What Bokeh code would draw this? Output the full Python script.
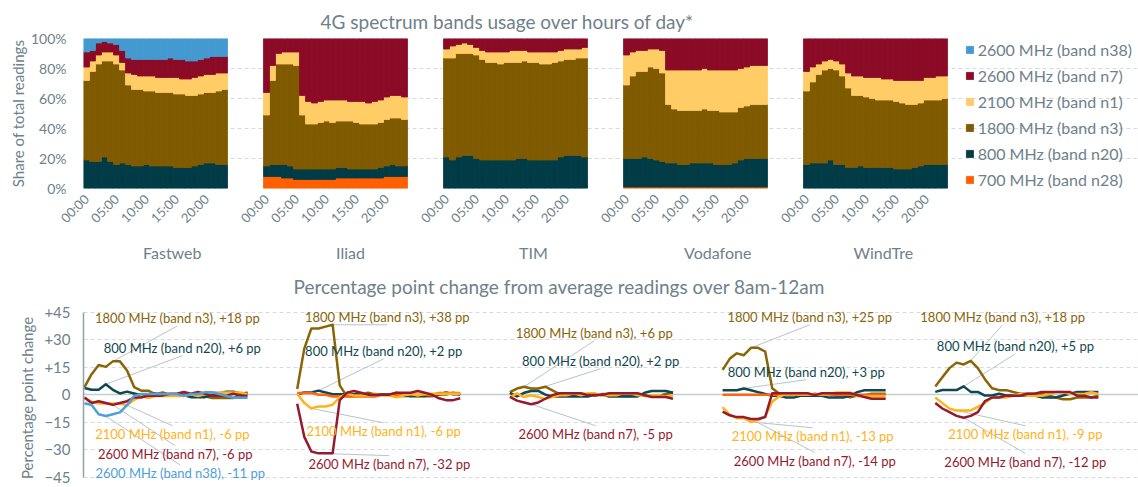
import math
from bokeh.plotting import figure
from bokeh.models import (Range1d, FixedTicker, ColumnDataSource, Legend, LegendItem,
                          LinearAxis, Grid)
from bokeh.layouts import column
from bokeh.embed import file_html
from bokeh.resources import INLINE
from bokeh.core.properties import value

# ---------------- data ----------------
operators = ["Fastweb", "Iliad", "TIM", "Vodafone", "WindTre"]
hours = list(range(24))
hour_ticks = [0, 5, 10, 15, 20]
hour_tick_labels = ["00:00", "05:00", "10:00", "15:00", "20:00"]

# stacking order bottom -> top
bands = ["n28", "n20", "n3", "n1", "n7", "n38"]
band_labels = {
    "n28": "700 MHz (band n28)",
    "n20": "800 MHz (band n20)",
    "n3": "1800 MHz (band n3)",
    "n1": "2100 MHz (band n1)",
    "n7": "2600 MHz (band n7)",
    "n38": "2600 MHz (band n38)",
}
legend_order = ["n38", "n7", "n1", "n3", "n20", "n28"]

# share of total readings (%) per hour 00..23
fastweb_n20 = [19, 18, 18, 21, 18, 16, 17, 16, 15, 15, 16, 15, 15, 15, 15, 14, 14, 14, 15, 16, 17, 17, 16, 16]
fastweb_n3 = [53, 60, 65, 64, 67, 67, 62, 53, 51, 51, 49, 50, 49, 49, 49, 49, 49, 48, 47, 47, 47, 47, 49, 50]
fastweb_n1 = [9, 7, 6, 6, 6, 6, 5, 8, 10, 9, 10, 10, 10, 10, 10, 11, 10, 11, 12, 12, 12, 12, 12, 11]
fastweb_n7 = [10, 7, 8, 7, 6, 7, 8, 10, 10, 11, 11, 11, 12, 12, 13, 12, 13, 12, 11, 11, 11, 12, 11, 11]
fastweb_n38 = [9, 8, 3, 2, 3, 4, 8, 13, 14, 14, 14, 14, 14, 14, 13, 14, 14, 15, 15, 14, 13, 12, 12, 12]

iliad_n28 = [8, 8, 8, 7, 7, 6, 6, 6, 6, 6, 6, 6, 7, 7, 7, 7, 7, 7, 7, 7, 8, 8, 8, 8]
iliad_n20 = [7, 8, 8, 9, 8, 7, 7, 7, 7, 7, 7, 7, 7, 7, 6, 6, 6, 6, 6, 7, 7, 8, 7, 7]
iliad_n3 = [34, 56, 67, 67, 68, 69, 36, 30, 30, 31, 32, 31, 31, 31, 32, 31, 30, 30, 30, 30, 31, 31, 32, 31]
iliad_n1 = [15, 10, 7, 8, 8, 9, 13, 15, 14, 14, 14, 15, 14, 14, 13, 14, 15, 14, 15, 15, 15, 15, 15, 15]
iliad_n7 = [36, 18, 10, 9, 9, 9, 38, 42, 43, 42, 41, 41, 41, 41, 42, 42, 42, 43, 42, 41, 39, 38, 38, 39]

tim_n20 = [21, 19, 21, 22, 22, 20, 19, 19, 19, 19, 19, 19, 20, 20, 19, 19, 19, 19, 19, 21, 22, 22, 22, 21]
tim_n3 = [66, 68, 69, 68, 68, 69, 67, 65, 65, 64, 65, 65, 64, 65, 65, 65, 64, 64, 65, 64, 64, 64, 65, 66]
tim_n1 = [6, 8, 6, 7, 6, 5, 6, 7, 7, 8, 7, 8, 8, 7, 7, 7, 8, 8, 7, 7, 7, 7, 6, 7]
tim_n7 = [7, 5, 4, 3, 4, 6, 8, 9, 9, 9, 9, 8, 8, 8, 9, 9, 9, 9, 9, 8, 7, 7, 7, 6]

vodafone_n28 = [1, 1, 1, 1, 1, 1, 1, 1, 1, 1, 1, 1, 1, 1, 1, 1, 1, 1, 1, 1, 1, 1, 1, 1]
vodafone_n20 = [19, 19, 19, 20, 19, 18, 17, 16, 16, 15, 15, 16, 16, 16, 16, 15, 15, 15, 16, 18, 19, 19, 19, 19]
vodafone_n3 = [49, 55, 58, 57, 61, 61, 59, 39, 36, 36, 36, 35, 35, 36, 35, 36, 35, 35, 34, 35, 35, 36, 36, 36]
vodafone_n1 = [20, 16, 14, 14, 12, 13, 15, 23, 26, 27, 27, 27, 27, 27, 27, 27, 28, 28, 28, 26, 26, 26, 26, 26]
vodafone_n7 = [11, 9, 8, 8, 7, 7, 8, 21, 21, 21, 21, 21, 21, 20, 21, 21, 21, 21, 21, 20, 19, 18, 18, 18]

windtre_n20 = [16, 17, 17, 17, 19, 16, 16, 14, 14, 15, 14, 14, 14, 14, 14, 13, 13, 13, 14, 15, 16, 16, 16, 16]
windtre_n3 = [49, 54, 59, 62, 61, 63, 59, 53, 48, 47, 47, 46, 45, 45, 45, 45, 44, 43, 42, 42, 43, 43, 43, 44]
windtre_n1 = [13, 10, 7, 6, 6, 6, 8, 10, 13, 13, 13, 14, 15, 14, 14, 14, 15, 16, 16, 15, 15, 15, 16, 15]
windtre_n7 = [22, 19, 17, 15, 14, 15, 17, 23, 25, 25, 26, 26, 26, 27, 27, 28, 28, 28, 28, 28, 26, 26, 25, 25]

shares = {
    "Fastweb": {"n20": fastweb_n20, "n3": fastweb_n3, "n1": fastweb_n1, "n7": fastweb_n7, "n38": fastweb_n38},
    "Iliad": {"n28": iliad_n28, "n20": iliad_n20, "n3": iliad_n3, "n1": iliad_n1, "n7": iliad_n7},
    "TIM": {"n20": tim_n20, "n3": tim_n3, "n1": tim_n1, "n7": tim_n7},
    "Vodafone": {"n28": vodafone_n28, "n20": vodafone_n20, "n3": vodafone_n3, "n1": vodafone_n1, "n7": vodafone_n7},
    "WindTre": {"n20": windtre_n20, "n3": windtre_n3, "n1": windtre_n1, "n7": windtre_n7},
}

# annotation values as printed on the chart
fastweb_notes = {"n3": "+18 pp", "n20": "+6 pp", "n1": "-6 pp", "n7": "-6 pp", "n38": "-11 pp"}
iliad_notes = {"n3": "+38 pp", "n20": "+2 pp", "n1": "-6 pp", "n7": "-32 pp"}
tim_notes = {"n3": "+6 pp", "n20": "+2 pp", "n7": "-5 pp"}
vodafone_notes = {"n3": "+25 pp", "n20": "+3 pp", "n1": "-13 pp", "n7": "-14 pp"}
windtre_notes = {"n3": "+18 pp", "n20": "+5 pp", "n1": "-9 pp", "n7": "-12 pp"}
notes = {"Fastweb": fastweb_notes, "Iliad": iliad_notes, "TIM": tim_notes,
         "Vodafone": vodafone_notes, "WindTre": windtre_notes}

# ---------------- layout / style ----------------
STRIDE = 30  # x units between the starts of operator panels
FONT = "Lato"
GREY = "#6e818a"
GRID = "#d3dbdf"

bar_colors = {"n28": "#ff5f00", "n20": "#003b46", "n3": "#7f5a00", "n1": "#ffcc66",
              "n7": "#8b0a26", "n38": "#4499d1"}
line_colors = {"n28": "#ff6410", "n20": "#0f4850", "n3": "#8a6406", "n1": "#ffb31a",
               "n7": "#951a30", "n38": "#4ea0da"}

# label anchor positions (x relative to panel start, y in pp)
note_pos = {
    "Fastweb": {"n3": (13.1, 41.9), "n20": (13.8, 25.7), "n1": (12.4, -21.3), "n7": (12.8, -32.2), "n38": (13.5, -42.7)},
    "Iliad": {"n3": (12.7, 42.5), "n20": (12.2, 24.0), "n1": (12.2, -19.7), "n7": (13.0, -37.6)},
    "TIM": {"n3": (11.9, 33.8), "n20": (12.8, 18.6), "n7": (12.1, -21.3)},
    "Vodafone": {"n3": (12.3, 42.5), "n20": (11.8, 12.6), "n1": (12.7, -22.4), "n7": (13.0, -35.9)},
    "WindTre": {"n3": (9.5, 42.5), "n20": (11.3, 26.7), "n1": (12.7, -21.3), "n7": (12.7, -36.4)},
}
op_label_x = [14.3, 44.0, 74.5, 105.2, 132.8]

# ---------------- top: stacked bars ----------------
top = figure(frame_width=1058, frame_height=150,
             x_range=Range1d(-0.5, 175.83), y_range=Range1d(0, 100),
             output_backend="svg", toolbar_location=None,
             min_border_left=80, min_border_right=0, min_border_top=38, min_border_bottom=75,
             outline_line_color=None, background_fill_color="white", border_fill_color="white")
top.title.text = "4G spectrum bands usage over hours of day*"
top.title.text_font = FONT
top.title.text_font_size = "19px"
top.title.text_font_style = "normal"
top.title.text_color = GREY
top.title.align = "left"
top.title.offset = 237
top.title.vertical_align = "top"
top.title.standoff = 8

renderers = {}
for k, op in enumerate(operators):
    op_bands = [b for b in bands if b in shares[op]]
    data = {"x": [STRIDE * k + h for h in hours]}
    for b in op_bands:
        data[b] = shares[op][b]
    src = ColumnDataSource(data)
    cols = [bar_colors[b] for b in op_bands]
    rs = top.vbar_stack(op_bands, x="x", width=1.0, source=src,
                        fill_color=cols, line_color=cols, line_width=0.8)
    for b, r in zip(op_bands, rs):
        renderers.setdefault(b, r)

top.xgrid.visible = False
top.ygrid.ticker = FixedTicker(ticks=[0, 20, 40, 60, 80, 100])
top.ygrid.grid_line_color = GRID
top.ygrid.grid_line_dash = "4 3"
top.ygrid.bounds = (-0.5, STRIDE * 4 + 23.5)

ya = top.yaxis[0]
ya.ticker = FixedTicker(ticks=[0, 20, 40, 60, 80, 100])
ya.major_label_overrides = {v: f"{v}%" for v in [0, 20, 40, 60, 80, 100]}
ya.axis_line_color = None
ya.major_tick_line_color = None
ya.minor_tick_line_color = None
ya.major_tick_out = 0
ya.minor_tick_out = 0
ya.major_label_standoff = 17
ya.major_label_text_font = FONT
ya.major_label_text_font_size = "14px"
ya.major_label_text_color = GREY
ya.axis_label = "Share of total readings"
ya.axis_label_text_font = FONT
ya.axis_label_text_font_size = "15px"
ya.axis_label_text_font_style = "normal"
ya.axis_label_text_color = GREY
ya.axis_label_standoff = 1

tick_pos = [STRIDE * k + h for k in range(len(operators)) for h in hour_ticks]
tick_lab = {STRIDE * k + h: lab for k in range(len(operators)) for h, lab in zip(hour_ticks, hour_tick_labels)}
xa = top.xaxis[0]
xa.ticker = FixedTicker(ticks=tick_pos)
xa.major_label_overrides = tick_lab
xa.major_label_orientation = math.pi / 4
xa.axis_line_color = None
xa.major_tick_line_color = None
xa.minor_tick_line_color = None
xa.major_tick_out = 0
xa.minor_tick_out = 0
xa.major_label_standoff = 8
xa.major_label_text_font = FONT
xa.major_label_text_font_size = "13px"
xa.major_label_text_color = GREY

op_axis = LinearAxis(ticker=FixedTicker(ticks=op_label_x),
                     major_label_overrides={x: op for x, op in zip(op_label_x, operators)},
                     axis_line_color=None, major_tick_line_color=None, minor_tick_line_color=None,
                     major_tick_out=0, minor_tick_out=0, major_tick_in=0, minor_tick_in=0,
                     major_label_standoff=8, major_label_text_font=FONT,
                     major_label_text_font_size="16px", major_label_text_color=GREY)
top.add_layout(op_axis, "below")

legend = Legend(items=[LegendItem(label=value(band_labels[b]), renderers=[renderers[b]]) for b in legend_order],
                location=(886, -1), orientation="vertical", padding=0, margin=0, spacing=6,
                glyph_width=9, glyph_height=9, label_height=20, label_standoff=4,
                label_text_font=FONT, label_text_font_size="16px", label_text_color=GREY,
                border_line_color=None, background_fill_alpha=0)
top.add_layout(legend, "center")

# ---------------- bottom: percentage point change ----------------
bot = figure(frame_width=1055, frame_height=177,
             x_range=Range1d(-0.14, 148.66), y_range=Range1d(-50.0, 46.45),
             x_axis_location=None, output_backend="svg", toolbar_location=None,
             min_border_left=83, min_border_right=0, min_border_top=45, min_border_bottom=0,
             outline_line_color=None, background_fill_color="white", border_fill_color="white")
bot.title.text = "Percentage point change from average readings over 8am-12am"
bot.title.text_font = FONT
bot.title.text_font_size = "19px"
bot.title.text_font_style = "normal"
bot.title.text_color = GREY
bot.title.align = "left"
bot.title.offset = 210
bot.title.vertical_align = "top"
bot.title.standoff = 19

bot.xgrid.visible = False
bot.ygrid.ticker = FixedTicker(ticks=[-45, -30, -15, 15, 30, 45])
bot.ygrid.grid_line_color = GRID
bot.ygrid.grid_line_dash = "4 3"
bot.ygrid.bounds = (-0.14, STRIDE * 4 + 23.3)
zero_grid = Grid(dimension=1, ticker=FixedTicker(ticks=[0]), grid_line_color="#c3cdd2",
                 grid_line_width=1.5, bounds=(-0.14, STRIDE * 4 + 23.3))
bot.add_layout(zero_grid)

pp_ticks = [-45, -30, -15, 0, 15, 30, 45]
by = bot.yaxis[0]
by.ticker = FixedTicker(ticks=pp_ticks)
by.major_label_overrides = {v: ("+%d" % v if v > 0 else ("0" if v == 0 else "\u2212%d" % -v)) for v in pp_ticks}
by.bounds = (-45, 45)
by.axis_line_color = "#8fa2aa"
by.axis_line_width = 1.5
by.major_tick_line_color = None
by.minor_tick_line_color = None
by.major_tick_out = 0
by.minor_tick_out = 0
by.major_label_standoff = 13
by.major_label_text_font = FONT
by.major_label_text_font_size = "15px"
by.major_label_text_color = GREY
by.axis_label = "Percentage point change"
by.axis_label_text_font = FONT
by.axis_label_text_font_size = "15px"
by.axis_label_text_font_style = "normal"
by.axis_label_text_color = GREY
by.axis_label_standoff = 5


def pp_series(share):
    base = sum(share[8:24]) / 16.0
    return [v - base for v in share]


line_order = ["n3", "n20", "n28", "n1", "n7", "n38"]
lead = {"x0": [], "y0": [], "x1": [], "y1": []}
txt = {"x": [], "y": [], "text": [], "color": []}
lines = []
for k, op in enumerate(operators):
    xs = [STRIDE * k + h for h in hours]
    for b in line_order:
        if b not in shares[op]:
            continue
        ys = pp_series(shares[op][b])
        lines.append((xs, ys, line_colors[b]))
        if b in notes[op]:
            note = notes[op][b]
            lx, ly = note_pos[op][b]
            lx += STRIDE * k
            if note.startswith("+"):
                i = max(range(24), key=lambda j: ys[j])
            else:
                i = min(range(24), key=lambda j: ys[j])
            px, py = xs[i], ys[i]
            sy = ly - 4.4 if py < ly else ly + 4.4
            lead["x0"].append(lx)
            lead["y0"].append(sy)
            lead["x1"].append(px)
            lead["y1"].append(py)
            txt["x"].append(lx)
            txt["y"].append(ly)
            txt["text"].append(f"{band_labels[b]}, {note}")
            txt["color"].append(line_colors[b])

bot.segment(x0="x0", y0="y0", x1="x1", y1="y1", source=ColumnDataSource(lead),
            line_color="#b7c4ca", line_width=1)
for xs, ys, c in lines:
    bot.line(xs, ys, line_color=c, line_width=2.5, line_join="round")
bot.text(x="x", y="y", text="text", text_color="color", source=ColumnDataSource(txt),
         text_align="center", text_baseline="middle", text_font=value(FONT), text_font_size="13px")

layout = column(top, bot, spacing=0)
open("out.html", "w").write(file_html(layout, INLINE))
